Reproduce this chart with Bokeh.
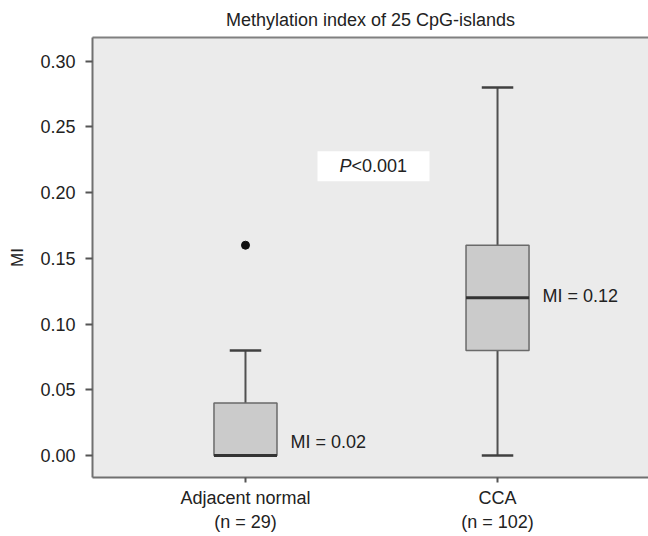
import numpy as np
from bokeh.plotting import figure
from bokeh.models import (Range1d, FixedTicker, LinearAxis, ColumnDataSource,
                          NumeralTickFormatter)
from bokeh.core.properties import value
from bokeh.embed import file_html
from bokeh.resources import INLINE

# ---- data ----
categories = ["Adjacent normal", "CCA"]
n_samples = [29, 102]
lower_whisker = [0.00, 0.00]
q1 = [0.00, 0.08]
median = [0.00, 0.12]
q3 = [0.04, 0.16]
upper_whisker = [0.08, 0.28]
outlier_category = ["Adjacent normal"]
outlier_values = [0.16]
median_labels = ["MI = 0.02", "MI = 0.12"]
p_value_prefix = "P"
p_value_rest = "<0.001"
y_ticks = [0.00, 0.05, 0.10, 0.15, 0.20, 0.25, 0.30]
title_text = "Methylation index of 25 CpG-islands"
y_label = "MI"

FONT = "Liberation Sans"
TXT = "#222222"
AX = "#707070"

xs = list(np.arange(len(categories)) + 1.0)
cat_pos = dict(zip(categories, xs))

p = figure(width=648, height=536, output_backend="svg", toolbar_location=None,
           x_range=Range1d(0.393, 2.599), y_range=Range1d(-0.0167, 0.318),
           min_border_left=92, min_border_right=0, min_border_top=37,
           min_border_bottom=59, background_fill_color="#ebebeb",
           border_fill_color="white", outline_line_color=None)
p.grid.visible = False

# y axis
p.yaxis.ticker = FixedTicker(ticks=y_ticks)
p.yaxis.formatter = NumeralTickFormatter(format="0.00")
p.yaxis.axis_label = y_label
for ax in [p.xaxis[0], p.yaxis[0]]:
    ax.axis_line_color = AX
    ax.axis_line_width = 2
    ax.major_tick_line_color = "#555555"
    ax.major_tick_line_width = 2
    ax.minor_tick_line_color = None
    ax.major_tick_in = 0
    ax.major_label_text_font = FONT
    ax.major_label_text_font_size = "18px"
    ax.major_label_text_color = TXT
    ax.axis_label_text_font = FONT
    ax.axis_label_text_font_size = "17px"
    ax.axis_label_text_font_style = "normal"
    ax.axis_label_text_color = TXT
p.yaxis.major_tick_out = 7
p.yaxis.major_label_standoff = 10
p.yaxis.axis_label_standoff = 10

# x axis
p.xaxis.ticker = FixedTicker(ticks=xs)
p.xaxis.major_tick_out = 5
p.xaxis.major_label_standoff = 5
p.xaxis.major_label_overrides = {
    float(x): f"{c}\n(n = {n})" for x, c, n in zip(xs, categories, n_samples)}

# top border + title
top = LinearAxis(ticker=FixedTicker(ticks=[]), axis_label=title_text,
                 axis_line_color="#808080", axis_line_width=2,
                 major_tick_out=0, major_tick_in=0, minor_tick_out=0,
                 minor_tick_in=0, major_label_text_font_size="0px",
                 major_label_standoff=0, axis_label_standoff=8,
                 axis_label_text_font=FONT, axis_label_text_font_size="18px",
                 axis_label_text_font_style="normal", axis_label_text_color=TXT)
p.add_layout(top, "above")

src = ColumnDataSource(dict(x=xs, lo=lower_whisker, q1=q1, med=median, q3=q3,
                            hi=upper_whisker, lab=median_labels,
                            yoff=[-14, -2]))

# whiskers
p.segment(x0="x", y0="q3", x1="x", y1="hi", source=src, line_color="#505050", line_width=2)
p.segment(x0="x", y0="lo", x1="x", y1="q1", source=src, line_color="#505050", line_width=2)
cap = 0.125
p.segment(x0=[x - cap / 2 for x in xs], y0=upper_whisker,
          x1=[x + cap / 2 for x in xs], y1=upper_whisker, line_color="#404040", line_width=2.5)
p.segment(x0=[x - cap / 2 for x in xs], y0=lower_whisker,
          x1=[x + cap / 2 for x in xs], y1=lower_whisker, line_color="#404040", line_width=2.5)

# boxes
p.vbar(x="x", width=0.25, bottom="q1", top="q3", source=src,
       fill_color="#cbcbcb", line_color="#6a6a6a", line_width=1.5)
# medians
bw = 0.25
p.segment(x0=[x - bw / 2 for x in xs], y0=median, x1=[x + bw / 2 for x in xs],
          y1=median, line_color="#333333", line_width=3)

# outlier
p.scatter(x=[cat_pos[c] for c in outlier_category], y=outlier_values,
          size=8, color="#111111")

# median labels
p.text(x="x", y="med", text="lab", source=src, x_offset=45, y_offset="yoff",
       text_align="left", text_baseline="middle", text_font=value(FONT),
       text_font_size="18px", text_color=TXT)

# P-value box
px, py = 1.508, 0.22
p.rect(x=[px], y=[py], width=112, height=30, width_units="screen",
       height_units="screen", fill_color="white", line_color=None)
p.text(x=[px], y=[py], text=[p_value_prefix], x_offset=-22, text_align="right",
       text_baseline="middle", text_font=value(FONT), text_font_size="18px",
       text_font_style="italic", text_color=TXT)
p.text(x=[px], y=[py], text=[p_value_rest], x_offset=-22, text_align="left",
       text_baseline="middle", text_font=value(FONT), text_font_size="18px",
       text_color=TXT)

open("out.html", "w").write(file_html(p, INLINE))
